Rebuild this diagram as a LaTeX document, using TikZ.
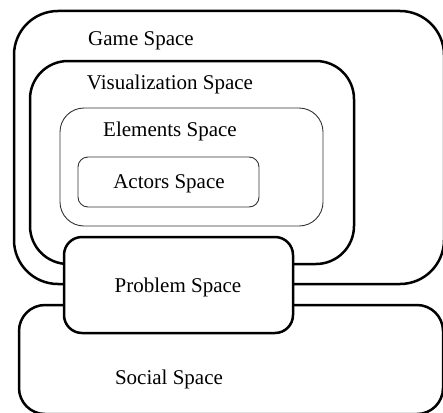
\documentclass[tikz,border=0pt]{standalone}
\usepackage{fontspec}
\setmainfont{Liberation Serif}
\begin{document}
\begin{tikzpicture}[x=1pt,y=-1pt,
  bigbox/.style={draw=black,line width=2.5pt},
  thinbox/.style={draw=black!80,line width=0.9pt},
  lbl/.style={font=\fontsize{21}{24}\selectfont,inner sep=0pt,anchor=center}]
\useasboundingbox (0,0) rectangle (443,412);
\begin{scope}
\clip (0,0) rectangle (443,412);
\draw[bigbox,rounded corners=44pt] (14,11) rectangle (444,284);
\draw[bigbox,rounded corners=38pt] (30,61) rectangle (354,264);
\draw[thinbox,rounded corners=24pt] (60,108) rectangle (323,226);
\draw[thinbox,rounded corners=10pt] (78,157) rectangle (259,207);
\draw[bigbox,rounded corners=26pt] (19,305) rectangle (443,414);
\draw[bigbox,fill=white,rounded corners=18pt] (64,237) rectangle (293,333);
\end{scope}
\node[lbl] (game) at (141,41) {Game Space};
\node[lbl] (vis) at (170,84) {Visualization Space};
\node[lbl] (elem) at (170,131) {Elements Space};
\node[lbl] (act) at (169,184) {Actors Space};
\node[lbl] (prob) at (178,287) {Problem Space};
\node[lbl] (soc) at (169,379) {Social Space};
\end{tikzpicture}
\end{document}
